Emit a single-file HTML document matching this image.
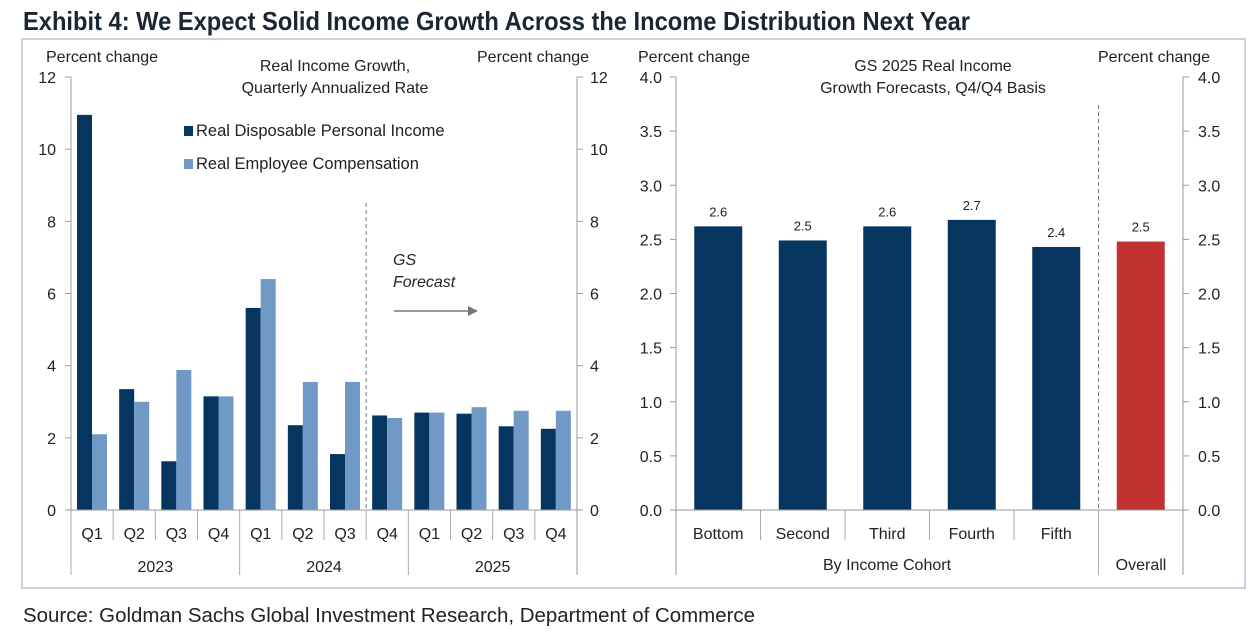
<!DOCTYPE html>
<html><head><meta charset="utf-8"><style>
body{margin:0;background:#fff;width:1260px;height:637px;overflow:hidden}
svg{display:block;font-family:"Liberation Sans",sans-serif}
</style></head><body>
<svg id="c" width="1260" height="637" xmlns="http://www.w3.org/2000/svg">
<text x="23" y="30" font-size="26" font-weight="bold" fill="#1c2533" textLength="947" lengthAdjust="spacingAndGlyphs" font-family="'Liberation Sans Narrow','Liberation Sans',sans-serif">Exhibit 4: We Expect Solid Income Growth Across the Income Distribution Next Year</text>
<rect x="22" y="39" width="1223" height="549" fill="#fff" stroke="#c9d2dc" stroke-width="2"/>
<text x="23" y="622" font-size="20" fill="#222" textLength="732" lengthAdjust="spacingAndGlyphs" font-family="'Liberation Sans Narrow','Liberation Sans',sans-serif">Source: Goldman Sachs Global Investment Research, Department of Commerce</text>
<g id="left"></g><g id="right"></g>
</svg>
<script>
const quarters=["Q1","Q2","Q3","Q4","Q1","Q2","Q3","Q4","Q1","Q2","Q3","Q4"];
const years=["2023","2024","2025"];
const rdpi=[10.95,3.35,1.35,3.15,5.6,2.35,1.55,2.62,2.7,2.67,2.32,2.25];
const rec=[2.1,3.0,3.88,3.15,6.4,3.55,3.55,2.55,2.7,2.85,2.75,2.75];
const leftTicks=[0,2,4,6,8,10,12];
const cohorts=["Bottom","Second","Third","Fourth","Fifth","Overall"];
const cohortVals=[2.62,2.49,2.62,2.68,2.43,2.48];
const cohortLabels=["2.6","2.5","2.6","2.7","2.4","2.5"];
const rightTicks=[0,0.5,1,1.5,2,2.5,3,3.5,4];

const NS="http://www.w3.org/2000/svg";
function mk(p,t,a,txt){const e=document.createElementNS(NS,t);for(const k in a)e.setAttribute(k,a[k]);if(txt!=null)e.textContent=txt;p.appendChild(e);return e;}
const AX="#999",TX="#222";
// LEFT
const L=document.getElementById('left');
const lx0=71,lx1=577,y0=510,ytop=77;
const ly=v=>y0-(y0-ytop)*v/12;
const cw=(lx1-lx0)/quarters.length;
const lxc=i=>lx0+cw*i;
leftTicks.forEach(t=>{
 let e=mk(L,'text',{x:56,y:ly(t)+6,'font-size':16,fill:TX,'text-anchor':'end'},String(t));
 
 
 e=mk(L,'text',{x:590,y:ly(t)+6,'font-size':16,fill:TX},String(t));
 
 
 mk(L,'line',{x1:lx0-6,x2:lx0,y1:ly(t),y2:ly(t),stroke:AX});
 mk(L,'line',{x1:lx1,x2:lx1+6,y1:ly(t),y2:ly(t),stroke:AX});
});
mk(L,'line',{x1:lx0,x2:lx0,y1:ytop,y2:575,stroke:AX});
mk(L,'line',{x1:lx1,x2:lx1,y1:ytop,y2:575,stroke:AX});
rdpi.forEach((v,i)=>{
 let e=mk(L,'rect',{x:lxc(i)+6,y:ly(v),width:15,height:y0-ly(v),fill:'#06365f'});
 
 
});
rec.forEach((v,i)=>{
 let e=mk(L,'rect',{x:lxc(i)+21,y:ly(v),width:15,height:y0-ly(v),fill:'#7199c5'});
 
 
});
mk(L,'line',{x1:lx0-6,x2:lx1+6,y1:y0,y2:y0,stroke:AX});
quarters.forEach((q,i)=>{
 const yr=i%4===0;
 mk(L,'line',{x1:lxc(i),x2:lxc(i),y1:y0,y2:yr?575:540,stroke:'#aaa'});
 let e=mk(L,'text',{x:lxc(i)+cw/2,y:539,'font-size':16,fill:TX,'text-anchor':'middle'},q);
 
 
});
years.forEach((y,i)=>{
 let e=mk(L,'text',{x:lxc(i*4)+cw*2,y:572,'font-size':16,fill:TX,'text-anchor':'middle'},y);
 
 
});
mk(L,'line',{x1:lxc(7),x2:lxc(7),y1:203,y2:y0,stroke:'#777','stroke-dasharray':'4,3'});
// RIGHT
const R=document.getElementById('right');
const rx0=676,rx1=1183,rtop=77;
const ry=v=>y0-(y0-rtop)*v/4;
const rw=(rx1-rx0)/cohorts.length;
rightTicks.forEach(t=>{
 let e=mk(R,'text',{x:662,y:ry(t)+6,'font-size':16,fill:TX,'text-anchor':'end'},t.toFixed(1));
 
 
 e=mk(R,'text',{x:1198,y:ry(t)+6,'font-size':16,fill:TX},t.toFixed(1));
 
 
 mk(R,'line',{x1:rx0-6,x2:rx0,y1:ry(t),y2:ry(t),stroke:AX});
 mk(R,'line',{x1:rx1,x2:rx1+6,y1:ry(t),y2:ry(t),stroke:AX});
});
mk(R,'line',{x1:rx0,x2:rx0,y1:rtop,y2:575,stroke:AX});
mk(R,'line',{x1:rx1,x2:rx1,y1:rtop,y2:575,stroke:AX});
cohortVals.forEach((v,i)=>{
 const cx=rx0+rw*(i+0.5);
 let e=mk(R,'rect',{x:cx-24,y:ry(v),width:48,height:y0-ry(v),fill:i===5?'#c0312f':'#06365f'});
 
 
 e=mk(R,'text',{x:cx,y:ry(v)-10,'font-size':13,fill:TX,'text-anchor':'middle'},cohortLabels[i]);
 
 
 e=mk(R,'text',{x:cx,y:539,'font-size':16,fill:TX,'text-anchor':'middle'},i===5?'':cohorts[i]);
 
 
 if(i>0)mk(R,'line',{x1:rx0+rw*i,x2:rx0+rw*i,y1:y0,y2:i===5?575:540,stroke:'#aaa'});
});
mk(R,'line',{x1:rx0-6,x2:rx1+6,y1:y0,y2:y0,stroke:AX});
mk(R,'line',{x1:rx0+rw*5,x2:rx0+rw*5,y1:105,y2:y0,stroke:'#777','stroke-dasharray':'4,3'});
</script>
<div style="position:absolute;left:0;top:0;width:1260px;height:637px;font-family:'Liberation Sans',sans-serif;color:#222;font-size:16px;pointer-events:none">
<div style="position:absolute;left:46px;top:49px">Percent change</div>
<div style="position:absolute;left:477px;top:49px">Percent change</div>
<div style="position:absolute;left:210px;top:56px;width:250px;text-align:center;line-height:22px">Real Income Growth,<br>Quarterly Annualized Rate</div>
<div style="position:absolute;left:184px;top:122px;font-size:16.5px"><span style="display:inline-block;width:9px;height:10px;background:#06365f;margin-right:3px"></span>Real Disposable Personal Income</div>
<div style="position:absolute;left:184px;top:155px;font-size:16.5px"><span style="display:inline-block;width:9px;height:10px;background:#7199c5;margin-right:3px"></span>Real Employee Compensation</div>
<div style="position:absolute;left:393px;top:250px;font-style:italic;line-height:22px">GS<br>Forecast</div>
<svg style="position:absolute;left:392px;top:303px" width="90" height="16"><line x1="2" y1="8" x2="78" y2="8" stroke="#777" stroke-width="1.5"/><polygon points="76,3 86,8 76,13" fill="#777"/></svg>
<div style="position:absolute;left:638px;top:49px">Percent change</div>
<div style="position:absolute;left:1098px;top:49px">Percent change</div>
<div style="position:absolute;left:783px;top:56px;width:300px;text-align:center;line-height:22px">GS 2025 Real Income<br>Growth Forecasts, Q4/Q4 Basis</div>
<div style="position:absolute;left:676px;top:557px;width:422px;text-align:center">By Income Cohort</div>
<div style="position:absolute;left:1099px;top:557px;width:84px;text-align:center">Overall</div>
</div>
</body></html>
